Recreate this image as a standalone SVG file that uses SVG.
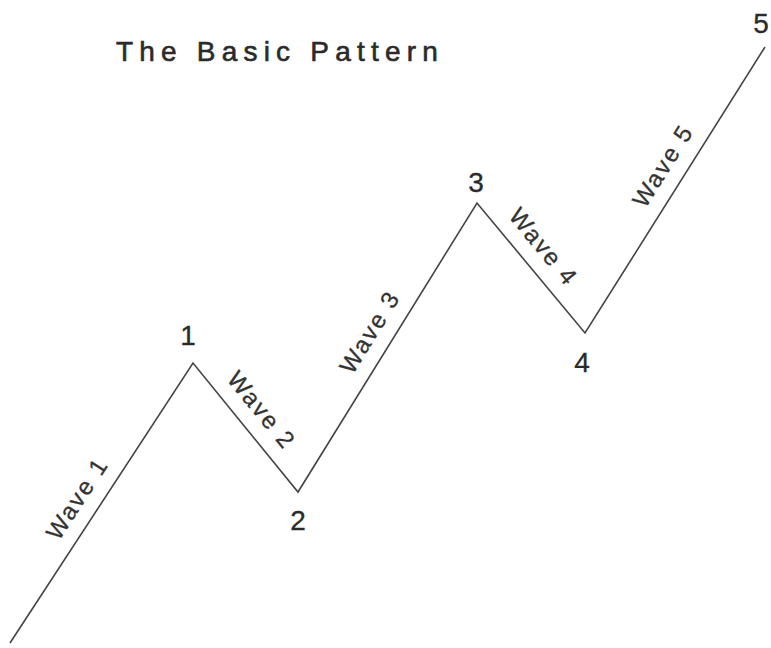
<svg xmlns="http://www.w3.org/2000/svg" width="771" height="648" viewBox="0 0 771 648">
<style>
.title{font-family:"Liberation Sans",Arial,sans-serif;font-size:28px;fill:#2a2a2a;stroke:#2a2a2a;stroke-width:0.6;letter-spacing:6.2px}
.num{font-family:"Liberation Sans",Arial,sans-serif;font-size:28px;fill:#2a2a2a;stroke:#2a2a2a;stroke-width:0.3;text-anchor:middle}
.wl{font-family:"Liberation Sans",Arial,sans-serif;font-size:24px;fill:#333;stroke:#333;stroke-width:0.3;text-anchor:middle;letter-spacing:2px}
.ln{fill:none;stroke:#444;stroke-width:1.6;stroke-linejoin:miter}
</style>
<rect width="771" height="648" fill="#fff"/>
<text class="title" x="116" y="61">The Basic Pattern</text>
<g id="connectors">
<polyline class="ln" points="10,643 193,363 298,492 477,203 585,333 765,47"/>
</g>
<g id="p1"><text class="num" x="188" y="345">1</text></g>
<g id="p2"><text class="num" x="298" y="530">2</text></g>
<g id="p3"><text class="num" x="476" y="192">3</text></g>
<g id="p4"><text class="num" x="582" y="372">4</text></g>
<g id="p5"><text class="num" x="761" y="33">5</text></g>
<g id="w1"><text class="wl" transform="translate(96,512) rotate(-56.8)" x="1" y="-15">Wave 1</text></g>
<g id="w2"><text class="wl" transform="translate(243,424) rotate(50.9)" x="1" y="-15">Wave 2</text></g>
<g id="w3"><text class="wl" transform="translate(389,345) rotate(-58.2)" x="1" y="-15">Wave 3</text></g>
<g id="w4"><text class="wl" transform="translate(525,261) rotate(50.3)" x="1" y="-15">Wave 4</text></g>
<g id="w5"><text class="wl" transform="translate(682,179) rotate(-57.8)" x="1" y="-15">Wave 5</text></g>
</svg>
